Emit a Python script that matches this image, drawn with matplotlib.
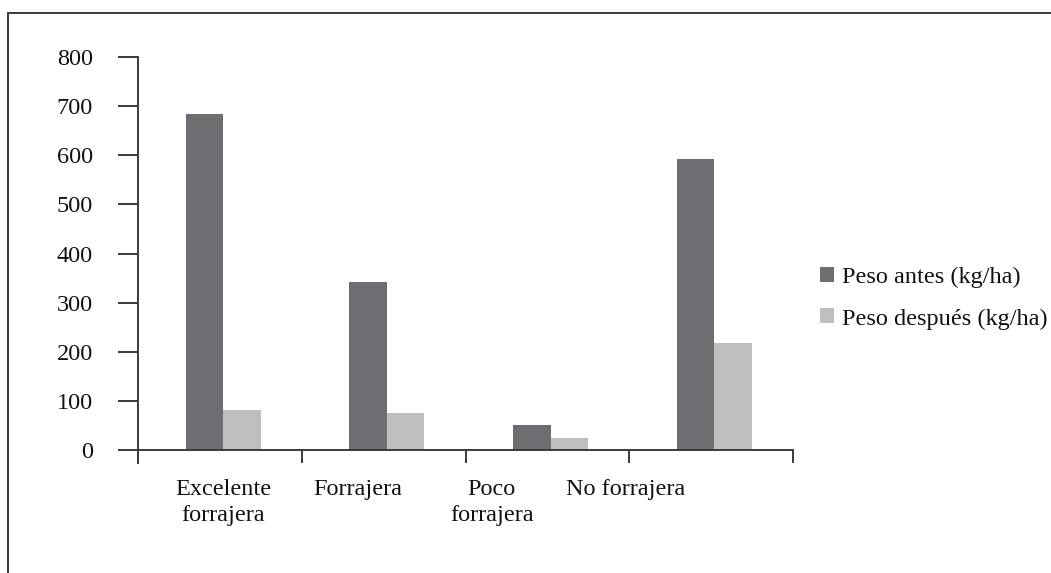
import matplotlib
matplotlib.use('Agg')
import matplotlib.pyplot as plt
import numpy as np
from matplotlib.patches import Rectangle

# ---- data ----
categories = ["Excelente\nforrajera", "Forrajera", "Poco\nforrajera", "No forrajera"]
peso_antes = [685, 343, 51, 592]
peso_despues = [82, 76, 25, 218]
series_labels = ["Peso antes (kg/ha)", "Peso después (kg/ha)"]
y_ticks = [0, 100, 200, 300, 400, 500, 600, 700, 800]

# ---- style ----
plt.rcParams['font.family'] = ['Liberation Serif', 'DejaVu Serif']
FS = 17.5
LC = '#3a3a3a'
TC = '#111111'
C_DARK = '#6d6e71'
C_LIGHT = '#bdbebf'

W, H = 1051, 573
fig = plt.figure(figsize=(W / 100, H / 100), dpi=100)
ax = fig.add_axes([138 / W, (H - 463) / H, 655 / W, 406 / H])

n = len(categories)
centers = np.arange(n) + 0.52
bw = 0.229
ax.bar(centers - bw / 2, peso_antes, bw, color=C_DARK, label=series_labels[0], zorder=1)
ax.bar(centers + bw / 2, peso_despues, bw, color=C_LIGHT, label=series_labels[1], zorder=1)

ax.set_xlim(0, n)
ax.set_ylim(-26, 800)
for s in ['top', 'right']:
    ax.spines[s].set_visible(False)
for s in ['left', 'bottom']:
    ax.spines[s].set_color(LC)
    ax.spines[s].set_linewidth(1.4)
    ax.spines[s].set_zorder(3)
ax.spines['bottom'].set_position(('data', 0))

ax.set_yticks(y_ticks)
ax.tick_params(axis='y', direction='out', length=14.4, width=1.4, color=LC,
               pad=18, labelsize=FS, labelcolor=TC)

ax.set_xticks(np.arange(n + 1))
ax.set_xticklabels([])
ax.tick_params(axis='x', which='major', direction='out', length=9.4, width=1.4, color=LC)
ax.set_xticks(0.52 + 0.82 * np.arange(n), categories, minor=True)
ax.tick_params(axis='x', which='minor', length=0, pad=21, labelsize=FS, labelcolor=TC)
for t in ax.get_xticklabels(minor=True):
    t.set_linespacing(1.3)

# frame around figure
fig.add_artist(Rectangle((8 / W, -0.5), 2, 0.5 + (H - 13) / H, transform=fig.transFigure,
                         fill=False, lw=1.4, ec=LC))

fig.legend(loc='center left', bbox_to_anchor=(820 / W, 1 - 298 / H), frameon=False,
           fontsize=FS, handlelength=0.58, handleheight=0.58, handletextpad=0.33,
           labelspacing=0.85, borderpad=0, borderaxespad=0, labelcolor=TC)

fig.savefig('out.png', dpi=100)
